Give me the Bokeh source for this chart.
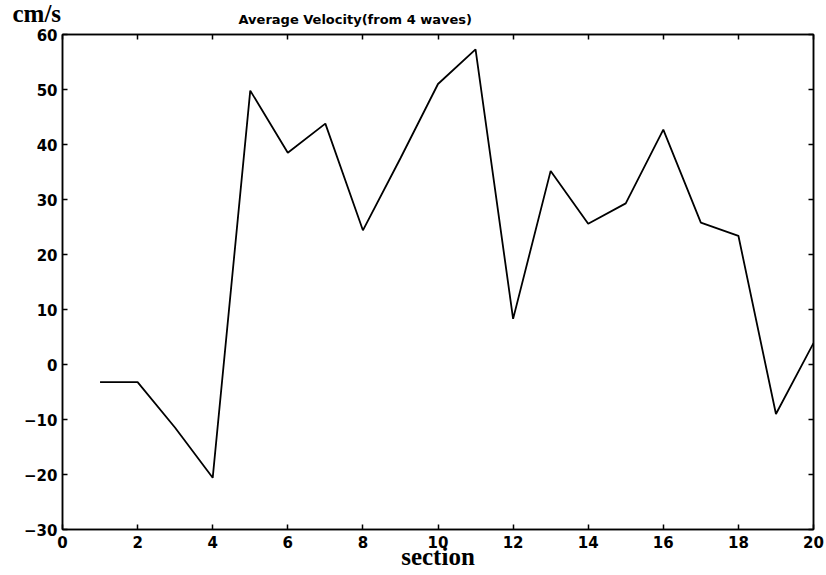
from bokeh.plotting import figure
from bokeh.models import LinearAxis, FixedTicker, Range1d, Title
from bokeh.embed import file_html
from bokeh.resources import INLINE

section = [1, 2, 3, 4, 5, 6, 7, 8, 9, 10, 11, 12, 13, 14, 15, 16, 17, 18, 19, 20]
velocity = [-3.2, -3.2, -11.5, -20.6, 49.8, 38.5, 43.8, 24.4, 37.5, 51.0, 57.3,
            8.3, 35.2, 25.6, 29.3, 42.7, 25.8, 23.4, -9.0, 3.9]
x_ticks = [0, 2, 4, 6, 8, 10, 12, 14, 16, 18, 20]
y_ticks = [-30, -20, -10, 0, 10, 20, 30, 40, 50, 60]

p = figure(width=826, height=575, output_backend="svg", toolbar_location=None,
           x_range=Range1d(0, 20), y_range=Range1d(-30, 60),
           min_border_left=62, min_border_right=13, min_border_top=34, min_border_bottom=46,
           x_axis_location=None, y_axis_location=None)
p.grid.visible = False
p.outline_line_color = "black"
p.outline_line_width = 1.5
p.background_fill_color = "white"
p.border_fill_color = "white"

def mk_axis(ticks, show_labels, standoff=4):
    ax = LinearAxis(ticker=FixedTicker(ticks=ticks))
    ax.major_tick_in = 5
    ax.major_tick_out = 0
    ax.minor_tick_line_color = None
    ax.axis_line_color = "black"
    ax.axis_line_width = 1.5
    ax.major_tick_line_width = 1.5
    ax.major_label_text_font = "DejaVu Sans"
    ax.major_label_text_font_style = "bold"
    ax.major_label_text_font_size = "15px"
    ax.major_label_text_color = "black" if show_labels else None
    ax.major_label_standoff = standoff
    if not show_labels:
        ax.major_label_text_font_size = "0px"
        ax.major_label_standoff = 0
    return ax

xb = mk_axis(x_ticks, True, standoff=6)
xb.axis_label = "section"
xb.axis_label_text_font = "Liberation Serif"
xb.axis_label_text_font_size = "25px"
xb.axis_label_text_font_style = "bold"
xb.axis_label_text_color = "black"
xb.axis_label_standoff = -8
p.add_layout(xb, "below")

p.add_layout(mk_axis(y_ticks, True, standoff=5), "left")
p.add_layout(mk_axis(x_ticks, False), "above")
p.add_layout(mk_axis(y_ticks, False), "right")

p.line(section, velocity, line_color="black", line_width=1.8)

t = Title(text="Average Velocity(from 4 waves)", align="left", offset=176,
          text_font="DejaVu Sans", text_font_size="13px", text_font_style="bold",
          text_color="black", standoff=16)
p.add_layout(t, "above")

u = Title(text="cm/s", align="left", offset=-50,
          text_font="Liberation Serif", text_font_size="25px", text_font_style="bold",
          text_color="black", standoff=-50)
p.add_layout(u, "above")

open("out.html", "w").write(file_html(p, INLINE))
